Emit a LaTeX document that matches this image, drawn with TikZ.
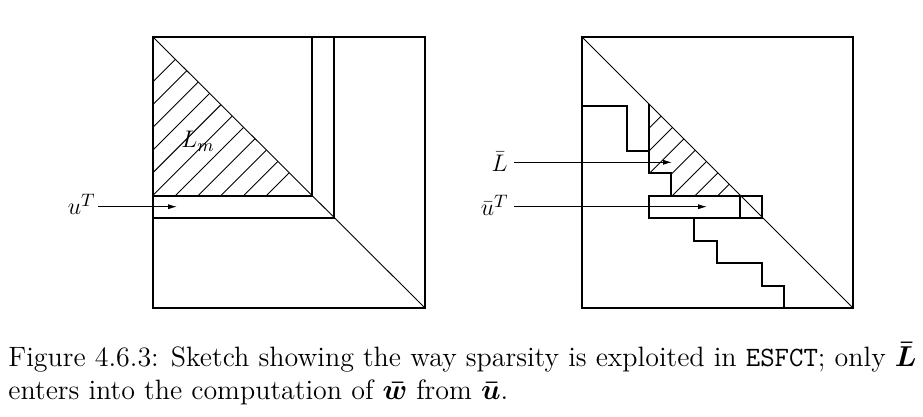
\documentclass[tikz,border=0pt]{standalone}
\usepackage{amsmath}
\usetikzlibrary{arrows.meta}
\tikzset{
  box/.style={line width=0.6pt},
  diag/.style={line width=0.45pt},
  hatch/.style={line width=0.45pt},
  ptr/.style={line width=0.5pt,-{Latex[length=4.5pt,width=2.6pt]}},
  lbl/.style={inner sep=0pt,font=\fontsize{12.5}{14}\selectfont},
  captext/.style={inner sep=0pt,font=\fontsize{14}{17}\selectfont}
}
\begin{document}
\begin{tikzpicture}[x=0.5pt,y=-0.5pt]
\useasboundingbox (0,0) rectangle (923,417);
% ---------- left square ----------
\draw[box] (153,37) rectangle (425,308);
\draw[diag] (153,37) -- (425,308);
\draw[box] (312,37) -- (312,196) -- (153,196);
\draw[box] (334,37) -- (334,218) -- (153,218);
\begin{scope}
  \clip (153,37) -- (153,196) -- (312,196) -- cycle;
  \foreach \k in {0,...,10} {
    \pgfmathsetmacro{\c}{234.7+22.73*\k}
    \draw[hatch] (\c-300,300) -- (\c,0);
  }
\end{scope}
\node[lbl,anchor=base west] (Lm) at (181,148) {$L_m$};
\node[lbl,anchor=base east] (uT) at (96,215) {$u^T$};
\coordinate (uTend) at (177,206.7);
\draw[ptr] (uT.east |- uTend) ++(2,0) -- (uTend);
% ---------- right square ----------
\draw[box] (582,37) rectangle (853,308);
\draw[diag] (582,37) -- (853,308);
\draw[box] (582,106) -- (627,106) -- (627,151) -- (649,151);
\draw[box] (649,104) -- (649,173) -- (671,173) -- (671,196);
\draw[box] (649,196) rectangle (762,218);
\draw[box] (740,196) -- (740,218);
\draw[box] (694,218) -- (694,241) -- (717,241) -- (717,263) -- (762,263)
  -- (762,286) -- (784,286) -- (784,308);
\begin{scope}
  \clip (649,104) -- (649,173) -- (671,173) -- (671,196) -- (741,196) -- cycle;
  \foreach \k in {0,...,6} {
    \pgfmathsetmacro{\c}{777.3+22.7*\k}
    \draw[hatch] (\c-300,300) -- (\c,0);
  }
\end{scope}
\node[lbl,anchor=base east] (Lbar) at (508,172) {$\bar L$};
\coordinate (Lend) at (672,162.3);
\draw[ptr] (Lbar.east |- Lend) ++(6,0) -- (Lend);
\node[lbl,anchor=base east] (ubT) at (509,216) {$\bar u^T$};
\coordinate (ubend) at (707,206.7);
\draw[ptr] (ubT.east |- ubend) ++(5,0) -- (ubend);
% ---------- caption ----------
\node[captext,anchor=base west] (cap1) at (8,366.7)
  {Figure 4.6.3: Sketch showing the way sparsity is exploited in \texttt{ESFCT}; only $\boldsymbol{\bar L}$};
\node[captext,anchor=base west] (cap2) at (8,400)
  {enters into the computation of $\boldsymbol{\bar w}$ from $\boldsymbol{\bar u}$.};
\end{tikzpicture}
\end{document}
